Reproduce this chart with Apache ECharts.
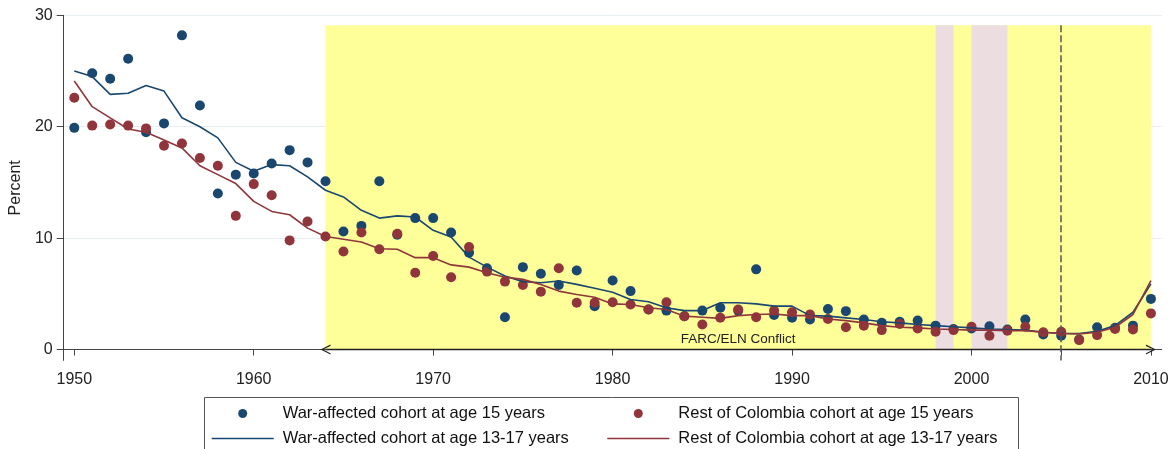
<!DOCTYPE html>
<html>
<head>
    <meta charset="utf-8">
    <title>Teen pregnancy by cohort</title>
    <script src="https://cdn.jsdelivr.net/npm/echarts@6/dist/echarts.min.js"></script>
    <style>
        body { margin: 0; background: #fff; }
        #main { width: 1176px; height: 449px; }
    </style>
</head>
<body>
<div id="main"></div>
<script type="text/javascript">
    // years 1950 .. 2010
    var years = [];
    for (var y = 1950; y <= 2010; y++) years.push(y);

    var warAt15 = [19.9, 24.8, 24.3, 26.1, 19.5, 20.3, 28.2, 21.9, 14.0, 15.7,
        15.8, 16.7, 17.9, 16.8, 15.1, 10.6, 11.1, 15.1, 10.3, 11.8,
        11.8, 10.5, 8.7, 7.3, 2.9, 7.4, 6.8, 5.8, 7.1, 3.9,
        6.2, 5.25, 3.6, 3.5, 3.0, 3.5, 3.75, 3.5, 7.2, 3.1,
        2.85, 2.7, 3.65, 3.45, 2.7, 2.4, 2.5, 2.6, 2.15, 1.85,
        1.9, 2.1, 1.8, 2.7, 1.35, 1.25, 0.9, 2.0, 1.95, 2.15,
        4.55];
    var restAt15 = [22.6, 20.1, 20.2, 20.1, 19.85, 18.3, 18.5, 17.2, 16.5, 12.0,
        14.85, 13.85, 9.8, 11.5, 10.15, 8.8, 10.5, 9.0, 10.4, 6.9,
        8.4, 6.5, 9.2, 7.0, 6.1, 5.8, 5.2, 7.3, 4.2, 4.2,
        4.25, 4.05, 3.6, 4.25, 3.0, 2.25, 2.85, 3.6, 2.9, 3.5,
        3.35, 3.15, 2.75, 2.0, 2.15, 1.75, 2.3, 1.9, 1.6, 1.75,
        2.05, 1.25, 1.7, 2.05, 1.55, 1.6, 0.85, 1.3, 1.85, 1.8,
        3.25];
    var war13to17 = [25.0, 24.5, 22.9, 23.0, 23.7, 23.2, 20.8, 20.0, 19.0, 16.8,
        16.0, 16.6, 16.5, 15.5, 14.3, 13.7, 12.5, 11.8, 12.0, 11.9,
        10.7, 10.1, 8.3, 7.4, 6.6, 6.1, 6.0, 6.15, 5.85, 5.5,
        5.15, 4.5, 4.3, 3.75, 3.5, 3.5, 4.2, 4.2, 4.1, 3.9,
        3.9, 3.05, 3.0, 2.85, 2.7, 2.5, 2.4, 2.25, 2.15, 2.05,
        1.95, 1.85, 1.8, 1.75, 1.55, 1.45, 1.45, 1.65, 2.15, 3.35,
        5.9];
    var rest13to17 = [24.1, 21.8, 20.8, 19.8, 19.5, 18.8, 18.1, 16.5, 15.7, 14.9,
        13.3, 12.4, 12.1, 10.9, 10.15, 9.9, 9.65, 9.05, 9.0, 8.25,
        8.25, 7.6, 7.4, 6.9, 6.5, 6.3, 5.85, 5.25, 4.95, 4.7,
        4.1, 4.05, 3.75, 3.6, 3.0, 2.9, 2.8, 3.05, 3.15, 3.2,
        3.05, 3.05, 2.75, 2.6, 2.4, 2.15, 2.0, 1.95, 1.85, 1.8,
        1.75, 1.75, 1.7, 1.7, 1.55, 1.45, 1.4, 1.55, 2.0, 3.15,
        6.2];

    var xTickLabels = [1950, 1960, 1970, 1980, 1990, 2000, 2010];
    var xTickMarks = [1950, 1960, 1970, 1980, 1990, 2000, 2005, 2010];
    var yTicks = [0, 10, 20, 30];

    var conflictSpan = [1964, 2010];
    var pinkBands = [[1998, 1999], [2000, 2002]];
    var shadeTop = 29.1;
    var breakYear = 2005;

    var names = [
        'War-affected cohort at age 15 years',
        'Rest of Colombia cohort at age 15 years',
        'War-affected cohort at age 13-17 years',
        'Rest of Colombia cohort at age 13-17 years'
    ];

    var BLUE = '#1a476f', RED = '#90353b';
    var FONT = '"Liberation Sans", Arial, sans-serif';

    function pairs(vals) {
        return years.map(function (yr, i) { return [yr, vals[i]]; });
    }

    var areas = [[
        {xAxis: conflictSpan[0], yAxis: 0, itemStyle: {color: '#ffff99'}},
        {xAxis: conflictSpan[1], yAxis: shadeTop}
    ]];
    pinkBands.forEach(function (b) {
        areas.push([
            {xAxis: b[0], yAxis: 0, itemStyle: {color: '#ebdde0'}},
            {xAxis: b[1], yAxis: shadeTop}
        ]);
    });

    // open arrow head, pointing up (markLine rotates it)
    var chevron = 'path://M5,0L10,10L8.6,10L5,2.6L1.4,10L0,10Z';
    // thin horizontal bar centred in the legend icon box
    var legendLine = 'path://M0,0L0.01,0L0,0.01Z M0,3.7L62,3.7L62,5.3L0,5.3Z M0,9L0.01,9L0,8.99Z';

    var legendBase = {
        top: 405,
        orient: 'vertical',
        padding: 0,
        itemWidth: 62,
        itemHeight: 9,
        itemGap: 8,
        selectedMode: false,
        textStyle: {fontSize: 16.5, color: '#111', lineHeight: 14, padding: [0, 0, 0, 4]}
    };

    var option = {
        animation: false,
        textStyle: {fontFamily: FONT},
        grid: {left: 62.5, right: 14.3, top: 15.3, bottom: 88.6},
        xAxis: {
            type: 'value',
            min: 1949.41,
            max: 2010.6,
            axisLine: {lineStyle: {color: '#444', width: 1}},
            axisTick: {customValues: xTickMarks, length: 6, lineStyle: {color: '#444'}},
            axisLabel: {
                customValues: xTickLabels, color: '#222', fontSize: 16, margin: 11,
                formatter: function (v) { return String(v); }
            },
            splitLine: {show: false}
        },
        yAxis: {
            type: 'value',
            min: -0.97,
            max: 30,
            name: 'Percent',
            nameLocation: 'middle',
            nameGap: 33,
            nameTextStyle: {color: '#222', fontSize: 16},
            axisLine: {show: true, lineStyle: {color: '#444', width: 1}},
            axisTick: {show: true, customValues: yTicks, length: 7, lineStyle: {color: '#444'}},
            axisLabel: {customValues: yTicks, color: '#222', fontSize: 16, margin: 11},
            splitLine: {show: true, lineStyle: {color: '#e6eef1', width: 1}}
        },
        legend: [
            Object.assign({}, legendBase, {
                left: 211.7,
                data: [{name: names[0], icon: 'circle'}, {name: names[2], icon: legendLine}]
            }),
            Object.assign({}, legendBase, {
                left: 607.3,
                data: [{name: names[1], icon: 'circle'}, {name: names[3], icon: legendLine}]
            })
        ],
        graphic: [{
            type: 'rect',
            z: -1,
            shape: {x: 204.5, y: 397.5, width: 814, height: 80},
            style: {fill: '#fff', stroke: '#555', lineWidth: 1}
        }],
        series: [
            {
                name: names[0],
                type: 'scatter',
                symbolSize: 10,
                itemStyle: {color: BLUE, opacity: 1},
                data: pairs(warAt15),
                markArea: {
                    silent: true,
                    label: {show: false},
                    data: areas
                },
                markLine: {
                    silent: true,
                    symbol: [chevron, chevron],
                    symbolSize: 10,
                    lineStyle: {color: '#222', width: 1.3, type: 'solid'},
                    label: {
                        show: true,
                        position: 'middle',
                        formatter: 'FARC/ELN Conflict',
                        color: '#222',
                        fontSize: 13.5,
                        distance: 3
                    },
                    data: [[{coord: [conflictSpan[0], 0]}, {coord: [conflictSpan[1], 0]}]]
                }
            },
            {
                name: names[1],
                type: 'scatter',
                symbolSize: 10,
                itemStyle: {color: RED, opacity: 1},
                data: pairs(restAt15),
                markLine: {
                    silent: true,
                    symbol: ['none', 'none'],
                    lineStyle: {color: '#555', width: 1.5, type: [7, 3]},
                    label: {show: false},
                    data: [[{coord: [breakYear, shadeTop]}, {coord: [breakYear, -0.97]}]]
                }
            },
            {
                name: names[2],
                type: 'line',
                symbol: 'none',
                lineStyle: {color: BLUE, width: 1.6},
                itemStyle: {color: BLUE},
                data: pairs(war13to17)
            },
            {
                name: names[3],
                type: 'line',
                symbol: 'none',
                lineStyle: {color: RED, width: 1.6},
                itemStyle: {color: RED},
                data: pairs(rest13to17)
            }
        ]
    };

    var myChart = echarts.init(document.getElementById('main'));
    myChart.setOption(option);
</script>
</body>
</html>
